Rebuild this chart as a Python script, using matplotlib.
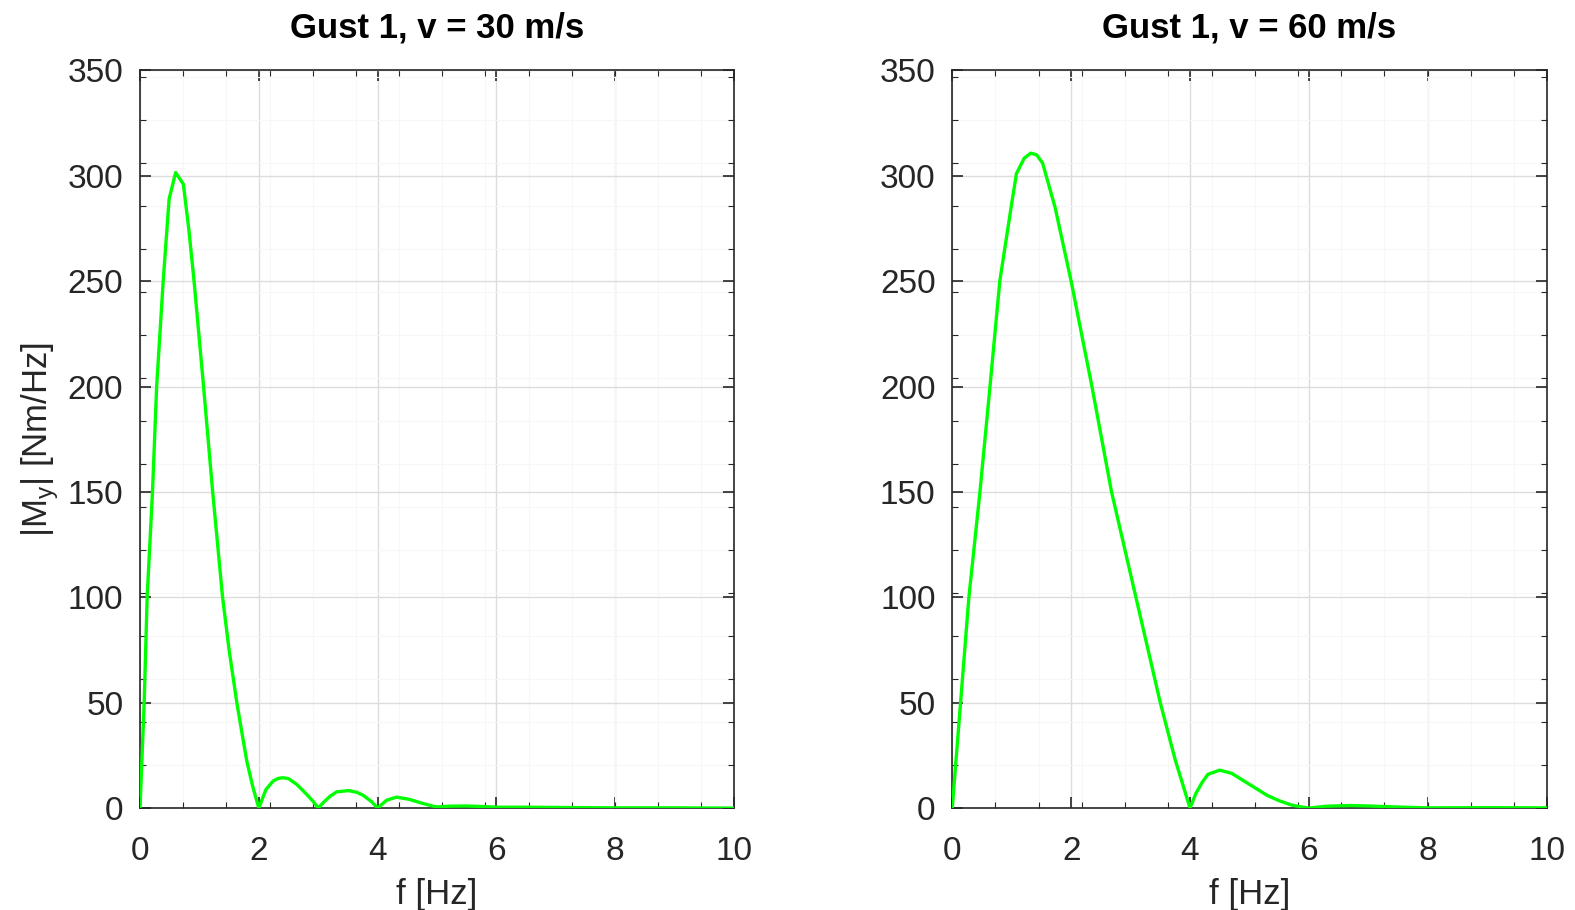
import numpy as np
import matplotlib
matplotlib.use("Agg")
import matplotlib.pyplot as plt
from matplotlib.ticker import FixedLocator

# bending moment spectra |My(f)| for gust 1 at two flight speeds
f_30 = [0.0, 0.07, 0.12, 0.21, 0.28, 0.39, 0.49, 0.60, 0.73, 0.82, 0.91, 1.07,
        1.22, 1.39, 1.50, 1.63, 1.72, 1.80, 1.90, 2.0,
        2.12, 2.24, 2.32, 2.40, 2.50, 2.64, 2.81, 2.92, 3.0,
        3.10, 3.20, 3.31, 3.51, 3.65, 3.76, 3.90, 4.0,
        4.15, 4.32, 4.54, 4.76, 4.99, 5.2, 5.5, 5.8, 6.0, 6.5, 7.0, 8.0, 9.0, 10.0]
m_30 = [0.0, 50, 100, 150, 200, 250, 289, 301.5, 296, 275, 250, 200,
        151, 100, 75, 50, 35, 22, 10, 0.0,
        8.8, 12.8, 14.0, 14.4, 14.0, 11.2, 6.4, 3.0, 0.0,
        3.0, 5.6, 7.7, 8.3, 7.5, 6.0, 3.0, 0.0,
        3.7, 5.2, 4.1, 2.2, 0.5, 0.9, 1.0, 0.7, 0.4, 0.4, 0.3, 0.1, 0.1, 0.0]

f_60 = [0.0, 0.14, 0.28, 0.466, 0.635, 0.80, 0.99, 1.08, 1.21, 1.32, 1.42, 1.52,
        1.73, 2.0, 2.35, 2.68, 3.09, 3.50, 3.75, 4.0,
        4.1, 4.2, 4.3, 4.5, 4.7, 4.9, 5.1, 5.3, 5.5, 5.7, 5.9, 6.0,
        6.3, 6.7, 7.0, 7.5, 8.0, 8.5, 9.0, 10.0]
m_60 = [0.0, 50, 100, 150, 200, 250, 285, 301, 308.3, 310.7, 309.9, 306,
        285, 250, 200, 150, 100, 50, 23, 0.0,
        7, 12, 16, 18, 16.5, 13, 9.5, 6, 3.5, 1.5, 0.4, 0.0,
        0.9, 1.2, 1.0, 0.5, 0.1, 0.15, 0.2, 0.1]

titles = ["Gust 1, v = 30 m/s", "Gust 1, v = 60 m/s"]

plt.rcParams['font.family'] = ['Liberation Sans', 'DejaVu Sans']

fig = plt.figure(figsize=(15.75, 9.1), dpi=100)
ax1 = fig.add_axes([0.0889, 0.112, 0.3771, 0.8107])
ax2 = fig.add_axes([0.6046, 0.112, 0.3774, 0.8107])

for ax, f, m, t in [(ax1, f_30, m_30, titles[0]), (ax2, f_60, m_60, titles[1])]:
    ax.plot(f, m, color='#00ff00', lw=2.4, zorder=3)
    ax.set_xlim(0, 10)
    ax.set_ylim(0, 350)
    ax.set_xticks(np.arange(0, 11, 2))
    ax.set_yticks(np.arange(0, 351, 50))
    ax.xaxis.set_minor_locator(FixedLocator(np.arange(0, 10, 0.727)))
    ax.yaxis.set_minor_locator(FixedLocator(np.arange(0, 350, 20.4)))
    ax.tick_params(which='both', direction='in', top=True, right=True,
                   color='#262626', labelcolor='#262626')
    ax.tick_params(which='major', length=8, width=1.2, labelsize=24)
    ax.tick_params(axis='x', which='major', pad=20)
    ax.tick_params(axis='y', which='major', pad=12)
    ax.tick_params(which='minor', length=4, width=0.8)
    ax.grid(which='major', color='#dcdcdc', lw=1.0)
    ax.grid(which='minor', color='#f7f7f7', lw=0.8)
    ax.set_axisbelow(True)
    for s in ax.spines.values():
        s.set_color('#262626')
        s.set_linewidth(1.2)
    ax.set_title(t, fontsize=25, fontweight='bold', pad=24)
    ax.set_xlabel('f [Hz]', fontsize=25, color='#262626', labelpad=8)

ax1.set_ylabel(r'|M$_\mathregular{y}$| [Nm/Hz]', fontsize=25, color='#262626', labelpad=5)

fig.savefig('out.png', dpi=100)
